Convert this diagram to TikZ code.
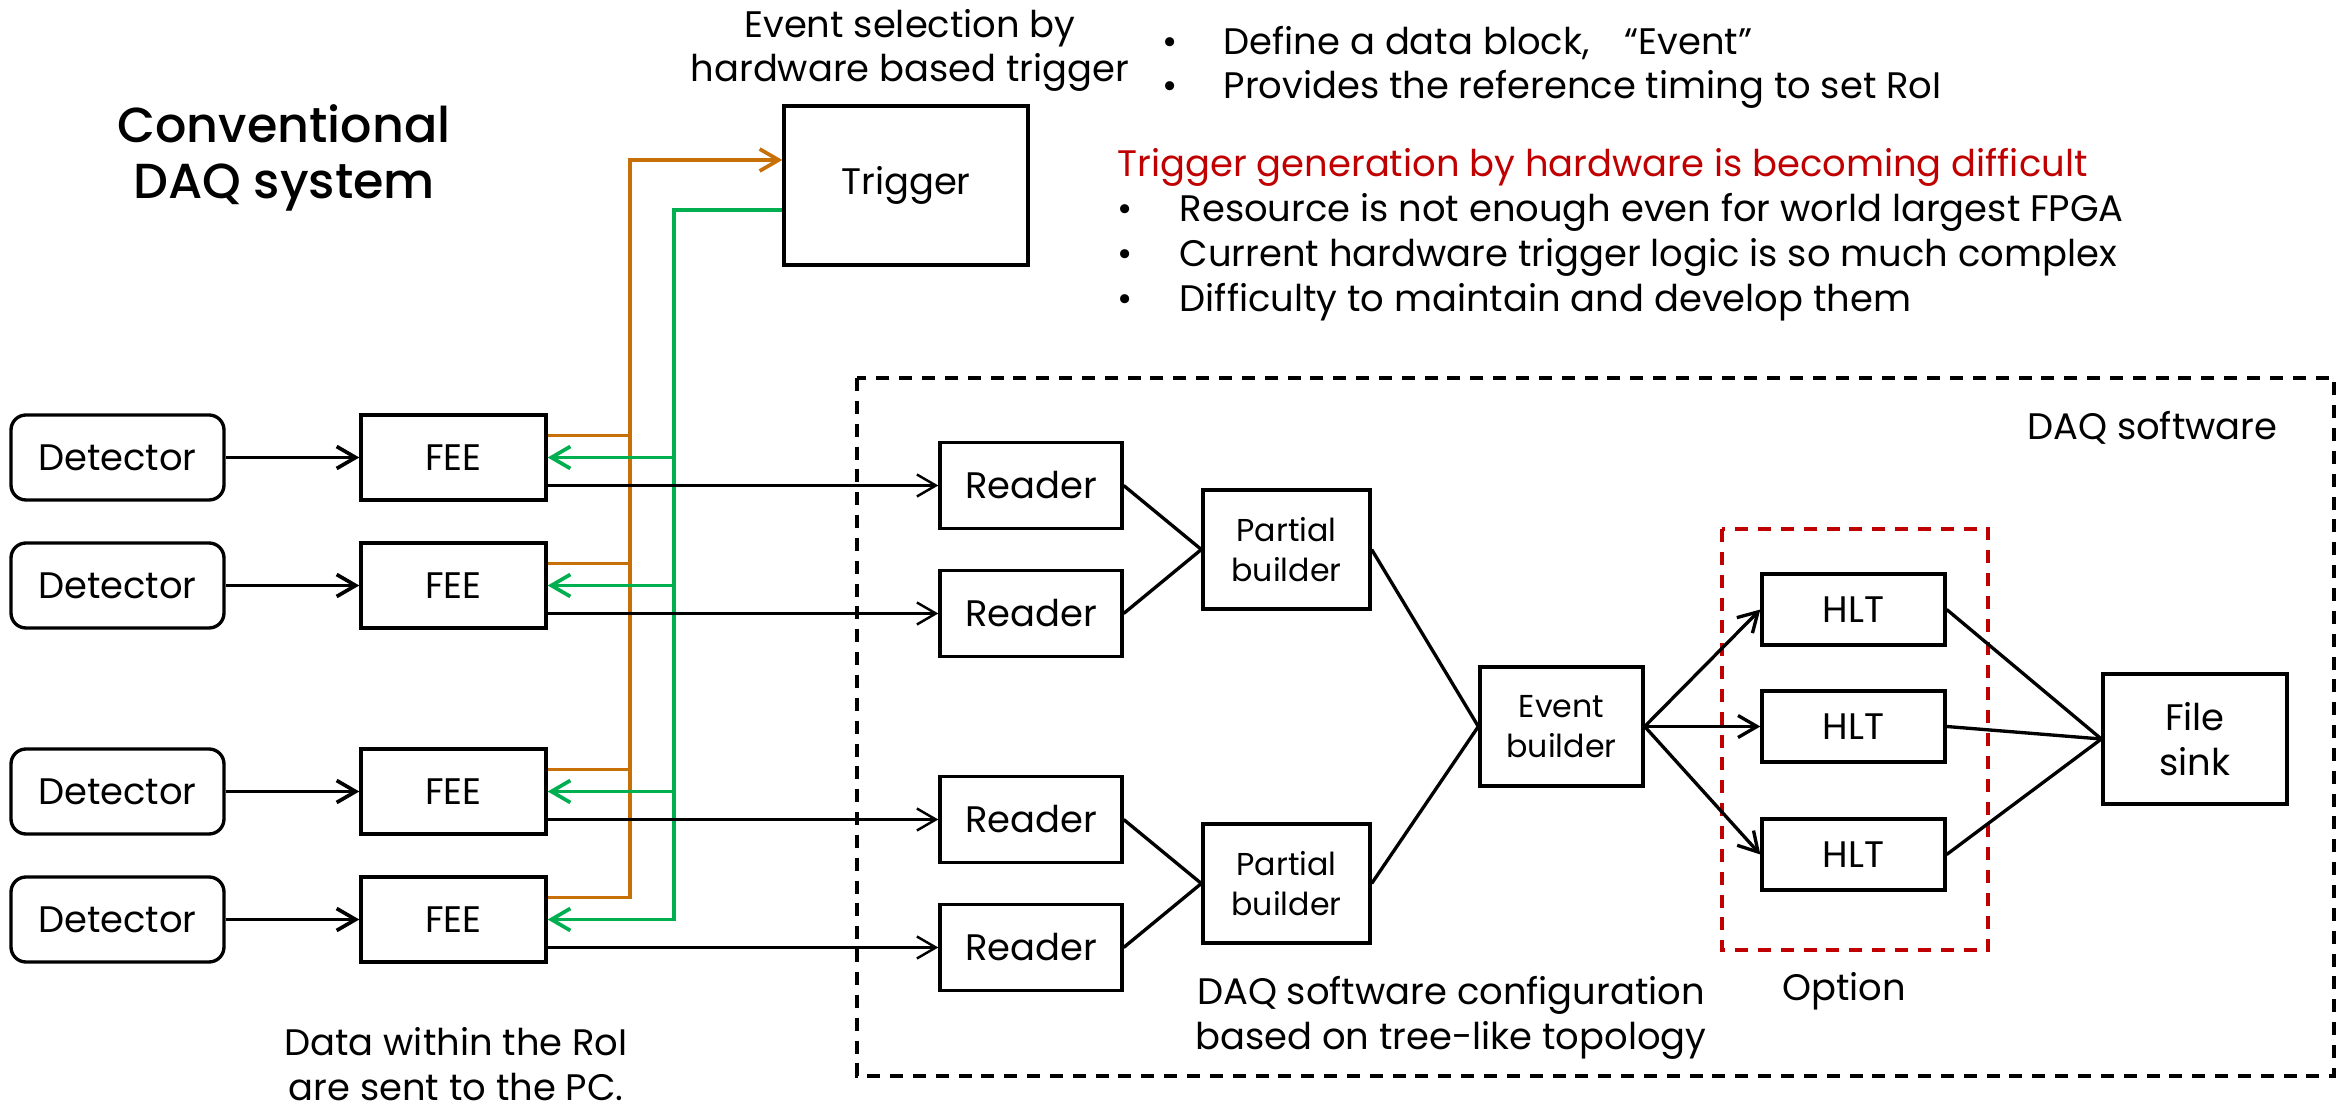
\documentclass[tikz,border=0pt]{standalone}
\usepackage{fontspec}
\setmainfont{Poppins}
\newfontfamily\titlefont{Poppins}[UprightFont=* Medium]
\usepackage{tikz}
\usetikzlibrary{arrows.meta}
\definecolor{trigorange}{RGB}{199,112,8}
\definecolor{triggreen}{RGB}{0,176,80}
\definecolor{darkred}{RGB}{192,0,0}
\tikzstyle{detector} = [rectangle, rounded corners=0.15cm, minimum width=2.13cm, minimum height=0.85cm, text centered, draw=black, line width=0.95pt]
\tikzstyle{process} = [rectangle, minimum width=1.85cm, minimum height=0.85cm, text centered, draw=black, line width=0.95pt]
\tikzstyle{reader} = [process, minimum width=1.82cm, minimum height=0.86cm]
\tikzstyle{builder} = [process, minimum width=1.67cm, minimum height=1.19cm, align=center, font=\fontsize{9}{11.3}\selectfont]
\tikzstyle{hlt} = [process, minimum width=1.83cm, minimum height=0.71cm]
\tikzstyle{arrow} = [line width=0.7pt,->]
\tikzstyle{link} = [line width=0.95pt]
\tikzstyle{orangeline} = [line width=1.05pt, draw=trigorange]
\tikzstyle{greenline} = [line width=1.05pt, draw=triggreen]
\tikzstyle{dashbox} = [line width=0.9pt, dash pattern=on 3.7pt off 2.8pt]
\tikzstyle{note} = [align=center]
\tikzstyle{listline} = [anchor=base west, inner sep=0pt]

\begin{document}
\begin{tikzpicture}[node distance=1.28cm, >={Straight Barb[length=1.9mm,width=2.2mm]}, font=\fontsize{10.5}{12.6}\selectfont]
\useasboundingbox (0,0) rectangle (23.43,-11.09);

% detectors and FEEs
\node (det1) [detector] at (1.175,-4.575) {Detector};
\node (det2) [detector, below of=det1] {Detector};
\node (det3) [detector, below of=det2, yshift=-0.78cm] {Detector};
\node (det4) [detector, below of=det3] {Detector};

\node (fee1) [process, right of=det1, xshift=2.08cm] {FEE};
\node (fee2) [process, right of=det2, xshift=2.08cm] {FEE};
\node (fee3) [process, right of=det3, xshift=2.08cm] {FEE};
\node (fee4) [process, right of=det4, xshift=2.08cm] {FEE};

\node (trig) [process, minimum width=2.44cm, minimum height=1.59cm, above of=fee1, xshift=4.525cm, yshift=1.44cm] {Trigger};

% DAQ software
\node (rd1) [reader, right of=fee1, xshift=4.495cm, yshift=-0.28cm] {Reader};
\node (rd2) [reader, right of=fee2, xshift=4.495cm, yshift=-0.28cm] {Reader};
\node (rd3) [reader, right of=fee3, xshift=4.495cm, yshift=-0.28cm] {Reader};
\node (rd4) [reader, right of=fee4, xshift=4.495cm, yshift=-0.28cm] {Reader};

\node (pb1) [builder, right of=rd1, xshift=1.275cm, yshift=-0.64cm] {Partial\\builder};
\node (pb2) [builder, right of=rd3, xshift=1.275cm, yshift=-0.64cm] {Partial\\builder};
\node (eb) [builder, minimum width=1.63cm, right of=pb1, xshift=1.47cm, yshift=-1.77cm] {Event\\builder};

\node (hlt2) [hlt, right of=eb, xshift=1.64cm] {HLT};
\node (hlt1) [hlt, above of=hlt2, yshift=-0.11cm] {HLT};
\node (hlt3) [hlt, below of=hlt2] {HLT};
\node (fs) [process, minimum width=1.84cm, minimum height=1.30cm, align=center, right of=hlt2, xshift=2.135cm, yshift=-0.125cm] {File\\sink};

\draw [dashbox] (8.57,-3.78) rectangle (23.34,-10.76);
\draw [dashbox, draw=darkred] (17.22,-5.29) rectangle (19.88,-9.50);

% trigger lines
\coordinate (obus) at ([xshift=0.82cm,yshift=0.22cm]fee4.east);
\coordinate (gbus) at ([xshift=1.26cm]fee4.east);
\draw [orangeline, ->] ([yshift=0.22cm]fee4.east) -- (obus) |- ([yshift=0.255cm]trig.west);
\draw [greenline, ->] ([yshift=-0.245cm]trig.west) -| (gbus) -- (fee4.east);
\foreach \i in {1,2,3} {
  \draw [orangeline] ([yshift=0.22cm]fee\i.east) -| (obus);
  \draw [greenline, <-] (fee\i.east) -| (gbus);
}

% data flow
\foreach \i in {1,...,4} {
  \draw [arrow, line width=1.05pt] (det\i) -- (fee\i);
  \draw [arrow] (fee\i.east |- rd\i.west) -- (rd\i.west);
}
\draw [link] (rd1.east) -- (pb1.west);
\draw [link] (rd2.east) -- (pb1.west);
\draw [link] (rd3.east) -- (pb2.west);
\draw [link] (rd4.east) -- (pb2.west);
\draw [link] (pb1.east) -- (eb.west);
\draw [link] (pb2.east) -- (eb.west);
\foreach \i in {1,2,3} {
  \draw [arrow, line width=0.95pt] (eb.east) -- (hlt\i.west);
  \draw [link] (hlt\i.east) -- (fs.west);
}

% texts
\node (title) [note, anchor=base, font=\fontsize{14}{16.2}\selectfont\titlefont] at (2.84,-1.99) {Conventional\\DAQ system};
\node (sel) [note, anchor=base] at (9.10,-0.82) {Event selection by\\hardware based trigger};
\node (def1) [listline] at (11.62,-0.55) {\makebox[0.61cm][l]{•}Define a data block,\hspace{0.35cm}“Event”};
\node (def2) [listline] at (11.62,-0.99) {\makebox[0.61cm][l]{•}Provides the reference timing to set RoI};
\node (hard) [listline, text=darkred] at (11.17,-1.77) {Trigger generation by hardware is becoming difficult};
\node (hard1) [listline] at (11.17,-2.22) {\makebox[0.62cm][l]{•}Resource is not enough even for world largest FPGA};
\node (hard2) [listline] at (11.17,-2.67) {\makebox[0.62cm][l]{•}Current hardware trigger logic is so much complex};
\node (hard3) [listline] at (11.17,-3.12) {\makebox[0.62cm][l]{•}Difficulty to maintain and develop them};
\node (daqsw) [anchor=base east, inner sep=0pt] at (22.78,-4.40) {DAQ software};
\node (opt) [anchor=base] at (18.44,-10.00) {Option};
\node (conf) [note, anchor=base] at (14.51,-10.49) {DAQ software configuration\\based on tree-like topology};
\node (roi) [note, anchor=base, inner sep=0pt] at (4.56,-11.00) {Data within the RoI\\are sent to the PC.};

\end{tikzpicture}
\end{document}
